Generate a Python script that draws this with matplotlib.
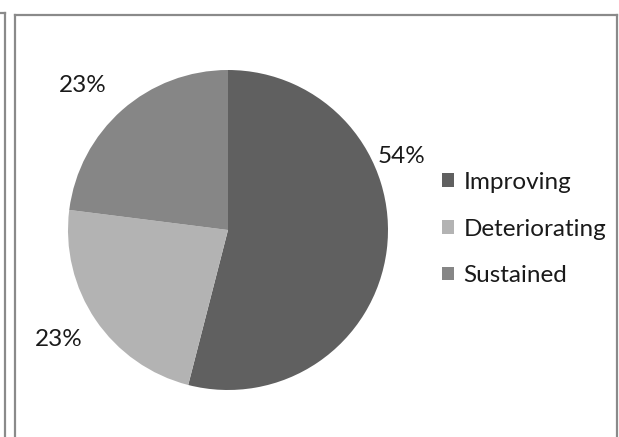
import matplotlib.pyplot as plt
import numpy as np
from matplotlib.lines import Line2D

plt.rcParams['font.family'] = ['Lato', 'DejaVu Sans']

# Data
categories = ["Improving", "Deteriorating", "Sustained"]
shares = [54, 23, 23]
colors = ['#606060', '#b3b3b3', '#868686']

# label placement (angle in degrees, distance in pie radii)
label_angles = [23, 213, 135]
label_radii = [1.18, 1.26, 1.28]

W, H = 619, 437
fig = plt.figure(figsize=(W / 100, H / 100), dpi=100)

# frame lines (chart border + edge of neighbouring box)
frame_col = '#8a8a8a'
def fline(xs, ys):
    fig.add_artist(Line2D([x / W for x in xs], [1 - y / H for y in ys],
                          transform=fig.transFigure, color=frame_col, lw=1.6))

fline([15, 15], [H, 15])
fline([15, 617], [15, 15])
fline([617, 617], [15, H])
fline([5, 5], [H, 13])
fline([0, 5], [13, 13])

# pie axes: centre (228, 230) px, radius 156 px
cx, cy, r = 228, 230, 156
half = 200
ax = fig.add_axes([(cx - half) / W, (H - cy - half) / H, 2 * half / W, 2 * half / H])
ax.set_xlim(-half / r, half / r)
ax.set_ylim(-half / r, half / r)
ax.axis('off')

wedges, texts, autotexts = ax.pie(shares, colors=colors, startangle=90, counterclock=False,
                                  autopct='%1.0f%%', pctdistance=1.2, radius=1,
                                  textprops={'fontsize': 17.5, 'color': '#1a1a1a'})
for t, ang, rad in zip(autotexts, label_angles, label_radii):
    a = np.deg2rad(ang)
    t.set_position((rad * np.cos(a), rad * np.sin(a)))
    t.set_ha('center')
    t.set_va('center')

fig.legend(wedges, categories, loc='center left', bbox_to_anchor=(442 / W, 1 - 229 / H),
           frameon=False, fontsize=17.5, handlelength=0.48, handleheight=0.48,
           handletextpad=0.4, labelspacing=1.06, borderpad=0, borderaxespad=0,
           labelcolor='#1a1a1a')

plt.savefig('out.png', dpi=100)
